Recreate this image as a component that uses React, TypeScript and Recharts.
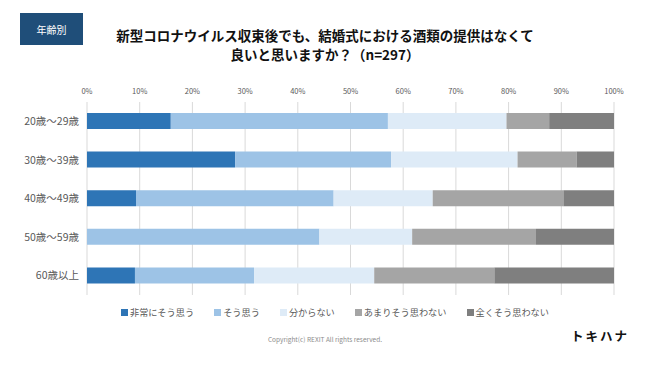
import { BarChart, Bar, XAxis, YAxis, CartesianGrid } from "recharts";

// 年代別の回答割合（%）
const ageGroups = ["20歳～29歳", "30歳～39歳", "40歳～49歳", "50歳～59歳", "60歳以上"];
const stronglyAgree = [15.9, 28.1, 9.3, 0, 9.1];
const agree = [41.2, 29.6, 37.5, 44.1, 22.6];
const unsure = [22.5, 24.0, 18.8, 17.6, 22.8];
const notReally = [8.1, 11.2, 24.8, 23.5, 22.8];
const notAtAll = [12.3, 7.1, 9.6, 14.8, 22.7];
const percentTicks = [0, 10, 20, 30, 40, 50, 60, 70, 80, 90, 100];

const series = [
  { key: "s1", name: "非常にそう思う", values: stronglyAgree, color: "#2e75b6" },
  { key: "s2", name: "そう思う", values: agree, color: "#9dc3e6" },
  { key: "s3", name: "分からない", values: unsure, color: "#deebf7" },
  { key: "s4", name: "あまりそう思わない", values: notReally, color: "#a5a5a5" },
  { key: "s5", name: "全くそう思わない", values: notAtAll, color: "#7f7f7f" },
];

const data = ageGroups.map((age, i) => {
  const row: any = { age };
  series.forEach((s) => (row[s.key] = s.values[i]));
  return row;
});

const font = '"Noto Sans CJK JP", "Noto Sans", sans-serif';

// 凡例（チャート外に配置してプロット領域を崩さない）
const LegendRow = () => (
  <div
    style={{
      position: "absolute", left: 0, top: 305, width: 650, display: "flex", justifyContent: "center",
      gap: 20, fontSize: 9.2, color: "#595959", lineHeight: "14px", paddingLeft: 10,
    }}
  >
    {series.map((s) => (
      <div key={s.key} style={{ display: "flex", alignItems: "center" }}>
        <span style={{ display: "inline-block", width: 7, height: 7, background: s.color, marginRight: 2 }} />
        {s.name}
      </div>
    ))}
  </div>
);

const titleStyle: any = {
  position: "absolute", left: 0, width: 650, textAlign: "center", fontWeight: 700,
  fontSize: 13.5, lineHeight: "19px", color: "#111",
};

export default function App() {
  return (
    <div style={{ position: "absolute", left: 0, top: 0, width: 650, height: 366, background: "#fff", fontFamily: font }}>
      <div
        style={{
          position: "absolute", left: 20, top: 13, width: 63, height: 32, background: "#1f4e79",
          color: "#fff", fontSize: 10, display: "flex", alignItems: "center", justifyContent: "center",
        }}
      >
        年齢別
      </div>
      <div style={{ ...titleStyle, top: 26 }}>新型コロナウイルス収束後でも、結婚式における酒類の提供はなくて</div>
      <div style={{ ...titleStyle, top: 45 }}>良いと思いますか？（n=297）</div>

      <BarChart
        width={650}
        height={366}
        data={data}
        layout="vertical"
        margin={{ top: 82, right: 36, left: 0, bottom: 71 }}
      >
        <CartesianGrid horizontal={false} stroke="#d9d9d9" />
        <XAxis
          type="number"
          orientation="top"
          domain={[0, 100]}
          ticks={percentTicks}
          tickFormatter={(v) => `${v}%`}
          axisLine={false}
          tickLine={false}
          tick={{ fontSize: 7.5, fill: "#595959" }}
          height={20}
        />
        <YAxis
          type="category"
          dataKey="age"
          width={87}
          axisLine={false}
          tickLine={false}
          tick={{ fontSize: 10.5, fill: "#595959" }}
        />
        {series.map((s) => (
          <Bar key={s.key} dataKey={s.key} name={s.name} stackId="a" fill={s.color} barSize={16} isAnimationActive={false} />
        ))}
      </BarChart>

      <LegendRow />
      <div style={{ position: "absolute", left: 0, top: 334, width: 650, textAlign: "center", fontSize: 6.5, color: "#8c8c8c" }}>
        Copyright(c) REXIT All rights reserved.
      </div>
      <div style={{ position: "absolute", left: 571, top: 326, fontSize: 12.5, fontWeight: 700, letterSpacing: 2, color: "#111" }}>
        トキハナ
      </div>
    </div>
  );
}
